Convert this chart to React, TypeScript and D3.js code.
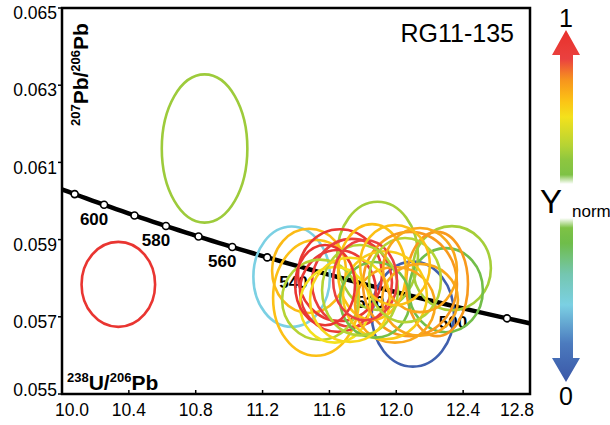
import React from 'react';
import * as d3 from 'd3';

// axis ticks
const xTicks = [10.0, 10.4, 10.8, 11.2, 11.6, 12.0, 12.4, 12.8];
const yTicks = [0.055, 0.057, 0.059, 0.061, 0.063, 0.065];

// concordia ages (Ma)
const markerAges = [490, 550, 560, 570, 580, 590, 600, 610];
const labelAges = [500, 520, 540, 560, 580, 600];

// error ellipses: centre (238U/206Pb, 207Pb/206Pb), half axes, Ynorm
const ellX = [10.853, 10.337, 11.374, 12.099, 11.888, 12.333, 12.297, 12.244, 11.52, 11.478, 11.663, 11.651, 11.735, 11.544, 11.633, 11.855, 12.082, 11.992, 11.932, 11.873, 11.783, 12.142, 11.574, 11.723, 11.813, 12.052, 12.142, 11.992];
const ellY = [0.06136, 0.05784, 0.05804, 0.05707, 0.05858, 0.05826, 0.05769, 0.05785, 0.05749, 0.05819, 0.05808, 0.05767, 0.05788, 0.05744, 0.05731, 0.05816, 0.05785, 0.05731, 0.05756, 0.05744, 0.05769, 0.05744, 0.05782, 0.05744, 0.05795, 0.05795, 0.05821, 0.05834];
const ellSx = [0.256, 0.22, 0.229, 0.246, 0.242, 0.233, 0.221, 0.185, 0.257, 0.221, 0.251, 0.227, 0.239, 0.227, 0.209, 0.203, 0.281, 0.239, 0.251, 0.209, 0.227, 0.227, 0.179, 0.239, 0.191, 0.215, 0.221, 0.209];
const ellSy = [0.00192, 0.0011, 0.0013, 0.00136, 0.0014, 0.00109, 0.00109, 0.00135, 0.0015, 0.00109, 0.00119, 0.00106, 0.00114, 0.00104, 0.00098, 0.00124, 0.00135, 0.00098, 0.00114, 0.00098, 0.00117, 0.00093, 0.00104, 0.00109, 0.00104, 0.00109, 0.00109, 0.00104];
const ellNorm = [0.57, 0.97, 0.25, 0.03, 0.58, 0.58, 0.46, 0.82, 0.76, 0.77, 0.96, 0.94, 0.92, 0.6, 0.7, 0.76, 0.82, 0.8, 0.74, 0.47, 0.6, 0.8, 0.97, 0.72, 0.9, 0.6, 0.8, 0.76];

// colour bar
const normStops = [0, 0.12, 0.25, 0.35, 0.45, 0.55, 0.6, 0.7, 0.76, 0.83, 0.9, 1];
const normColors = ['#3b57a7', '#4a78bd', '#7bd0e3', '#74c6b0', '#6fbd4a', '#8dc63f', '#b5d334', '#f4e11c', '#fcc015', '#f7931e', '#ea4140', '#e8302a'];

const L238 = 1.55125e-10;
const L235 = 9.8485e-10;
const U85 = 137.88;

function concordia(ma: number): [number, number] {
  const t = ma * 1e6;
  const e8 = Math.exp(L238 * t) - 1;
  const e5 = Math.exp(L235 * t) - 1;
  return [1 / e8, e5 / e8 / U85];
}

const font = 'Liberation Sans, Arial, sans-serif';

export default function App() {
  const left = 62, right = 530, top = 8, bottom = 394;
  const x = d3.scaleLinear().domain([10, 12.8]).range([left, right]);
  const y = d3.scaleLinear().domain([0.055, 0.065]).range([bottom, top]);
  const color = d3.scaleLinear<string>().domain(normStops).range(normColors);

  const curve = d3.range(470, 632, 2).map(concordia);
  const line = d3.line<[number, number]>().x(d => x(d[0])).y(d => y(d[1]));

  const topStops = d3.range(0, 21).map(i => ({ off: i / 20 * 0.94, c: color(1 - 0.5 * i / 20) }));
  const botStops = d3.range(0, 21).map(i => ({ off: 0.06 + i / 20 * 0.94, c: color(0.5 - 0.5 * i / 20) }));

  return (
    <svg width={610} height={425} style={{ position: 'absolute', left: 0, top: 0, background: '#fff' }}>
      <defs>
        <clipPath id="plot">
          <rect x={left} y={top} width={right - left} height={bottom - top} />
        </clipPath>
        <linearGradient id="gTop" x1="0" y1="0" x2="0" y2="1">
          {topStops.map((s, i) => <stop key={i} offset={s.off} stopColor={s.c} />)}
          <stop offset={1} stopColor="#fff" />
        </linearGradient>
        <linearGradient id="gBot" x1="0" y1="0" x2="0" y2="1">
          <stop offset={0} stopColor="#fff" />
          {botStops.map((s, i) => <stop key={i} offset={s.off} stopColor={s.c} />)}
        </linearGradient>
      </defs>

      {/* concordia */}
      <g clipPath="url(#plot)">
        <path d={line(curve) || ''} fill="none" stroke="#000" strokeWidth={4.5} />
        {markerAges.map(a => {
          const [cx, cy] = concordia(a);
          return <circle key={a} cx={x(cx)} cy={y(cy)} r={3.5} fill="#fff" stroke="#000" strokeWidth={1.6} />;
        })}
        {labelAges.map(a => {
          const [cx, cy] = concordia(a);
          return (
            <text key={a} x={x(cx) - 10} y={y(cy) + 20} textAnchor="middle" fontFamily={font} fontWeight="bold" fontSize={17}>
              {a}
            </text>
          );
        })}
      </g>

      {/* ellipses */}
      <g fill="none" strokeWidth={2.6}>
        {ellX.map((cx, i) => (
          <ellipse
            key={i}
            cx={x(cx)}
            cy={y(ellY[i])}
            rx={x(cx + ellSx[i]) - x(cx)}
            ry={y(ellY[i]) - y(ellY[i] + ellSy[i])}
            stroke={color(ellNorm[i])}
          />
        ))}
      </g>

      {/* frame */}
      <rect x={left} y={top} width={right - left} height={bottom - top} fill="none" stroke="#000" strokeWidth={2.5} />

      {/* y axis */}
      {yTicks.map(t => (
        <g key={t}>
          <line x1={left - 4} x2={left} y1={y(t)} y2={y(t)} stroke="#000" strokeWidth={1.5} />
          <text x={57} y={Math.min(y(t) + 5, 390)} dy="0.35em" textAnchor="end" fontFamily={font} fontSize={17.5}>
            {t.toFixed(3)}
          </text>
        </g>
      ))}

      {/* x axis */}
      {xTicks.map((t, i) => {
        const shift = i === 0 ? 10 : i === xTicks.length - 1 ? -13 : 0;
        return (
          <g key={t}>
            <line x1={x(t)} x2={x(t)} y1={bottom - 4} y2={bottom} stroke="#000" strokeWidth={1.5} />
            <text x={x(t) + shift} y={416} textAnchor="middle" fontFamily={font} fontSize={17.5}>
              {t.toFixed(1)}
            </text>
          </g>
        );
      })}

      {/* axis titles */}
      <text transform="translate(88,126) rotate(-90)" fontFamily={font} fontWeight="bold" fontSize={21}>
        <tspan fontSize={13} dy={-8}>207</tspan>
        <tspan dy={8}>Pb/</tspan>
        <tspan fontSize={13} dy={-8}>206</tspan>
        <tspan dy={8}>Pb</tspan>
      </text>
      <text x={67} y={390} fontFamily={font} fontWeight="bold" fontSize={21}>
        <tspan fontSize={13} dy={-8}>238</tspan>
        <tspan dy={8}>U/</tspan>
        <tspan fontSize={13} dy={-8}>206</tspan>
        <tspan dy={8}>Pb</tspan>
      </text>
      <text x={514} y={42} textAnchor="end" fontFamily={font} fontSize={25}>RG11-135</text>

      {/* colour bar */}
      <path d="M566,30 L580,55 L573,55 L573,184 L560,184 L560,55 L552,55 Z" fill="url(#gTop)" />
      <path d="M560,218 L573,218 L573,358 L580,358 L566,382 L552,358 L560,358 Z" fill="url(#gBot)" />
      <text x={566} y={27} textAnchor="middle" fontFamily={font} fontSize={25}>1</text>
      <text x={566} y={405} textAnchor="middle" fontFamily={font} fontSize={25}>0</text>
      <text x={551} y={213} textAnchor="middle" fontFamily={font} fontSize={33}>Y</text>
      <text x={572} y={217} fontFamily={font} fontSize={17}>norm</text>
    </svg>
  );
}
